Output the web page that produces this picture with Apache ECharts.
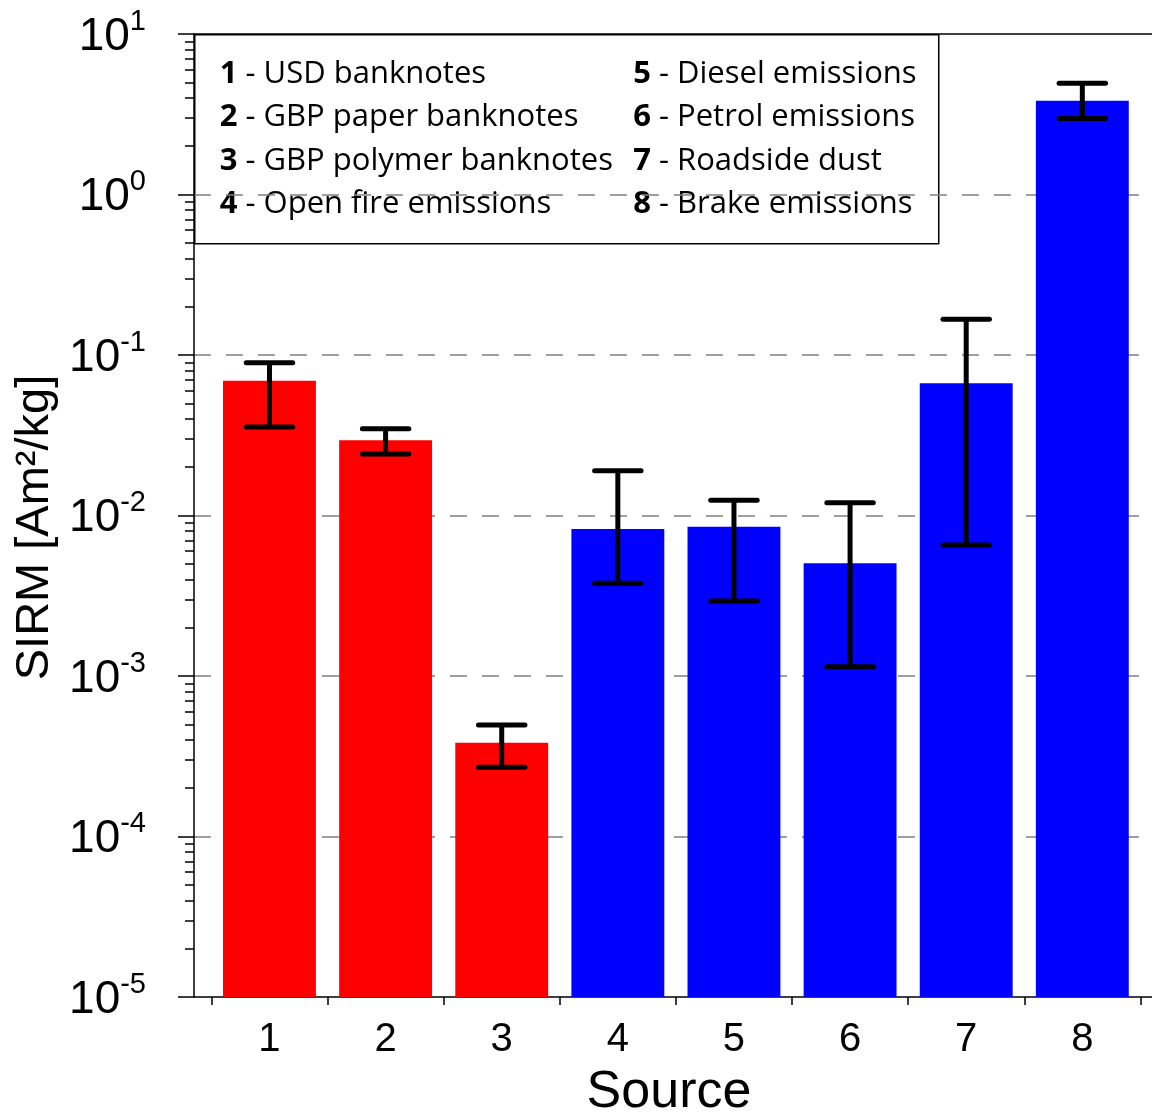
<!DOCTYPE html>
<html><head><meta charset="utf-8">
<script src="https://cdn.jsdelivr.net/npm/echarts@6/dist/echarts.min.js"></script>
<style>html,body{margin:0;padding:0;background:#fff}#c{width:1152px;height:1117px}</style>
</head><body><div id="c"></div>
<script>
// ---- data ----
const categories = [1, 2, 3, 4, 5, 6, 7, 8];
const sourceNames = ['USD banknotes', 'GBP paper banknotes', 'GBP polymer banknotes', 'Open fire emissions',
  'Diesel emissions', 'Petrol emissions', 'Roadside dust', 'Brake emissions'];
const sourceGroup = ['banknote', 'banknote', 'banknote', 'emission', 'emission', 'emission', 'emission', 'emission'];
const sirmMean  = [0.0692, 0.0294, 3.84e-4, 8.24e-3, 8.52e-3, 5.04e-3, 0.0666, 3.84];
const sirmUpper = [0.0895, 0.0347, 4.95e-4, 0.0190, 0.01243, 0.01202, 0.1669, 4.93];
const sirmLower = [0.0356, 0.0242, 2.70e-4, 3.78e-3, 2.93e-3, 1.143e-3, 6.55e-3, 2.98];
const yTickValues = [1e-5, 1e-4, 1e-3, 1e-2, 1e-1, 1, 10];
const yTickLabels = ['-5', '-4', '-3', '-2', '-1', '0', '1'];
const xTickBoundaries = [0.5, 1.5, 2.5, 3.5, 4.5, 5.5, 6.5, 7.5, 8.5];
const xLabel = 'Source';
const yLabel = 'SIRM [Am\u00B2/kg]';

// ---- styling / layout ----
const groupColor = { banknote: '#ff0000', emission: '#0000ff' };
const Y_MIN = 1e-5, Y_MAX = 10;
const AX = 'Liberation Sans, Arial, sans-serif';
const LEG = 'Open Sans, sans-serif';

// minor (2..9 x 10^n) tick positions of the log axis
const yMinorValues = [];
for (let e = -5; e < 1; e++) for (let m = 2; m <= 9; m++) yMinorValues.push(+(m * Math.pow(10, e)).toPrecision(3));

const chart = echarts.init(document.getElementById('c'), null, { renderer: 'canvas' });

const legendChildren = [{
  type: 'rect', shape: { x: 0, y: 0, width: 744, height: 209 },
  style: { fill: '#fff', stroke: '#000', lineWidth: 1.5 }
}];
sourceNames.forEach((name, i) => {
  const col = Math.floor(i / 4), row = i % 4;
  legendChildren.push({
    type: 'text', x: 25 + col * 413.5, y: 39.5 + row * 43.4,
    style: {
      text: '{b|' + categories[i] + '} - ' + name,
      font: '31px ' + LEG, fill: '#000', verticalAlign: 'middle', align: 'left',
      rich: { b: { fontWeight: 'bold', fontSize: 31, fontFamily: LEG } }
    }
  });
});

const option = {
  backgroundColor: '#fff',
  animation: false,
  grid: { left: 194, right: 0, top: 34, bottom: 120, containLabel: false, outerBoundsMode: 'none' },
  xAxis: [{
    type: 'value', min: 0.35, max: 8.6, position: 'bottom',
    axisLine: { show: true, lineStyle: { color: '#000', width: 1.5 } },
    axisTick: { show: true, customValues: xTickBoundaries, length: 8, lineStyle: { color: '#000', width: 1.5 } },
    axisLabel: { customValues: categories, color: '#000', fontFamily: AX, fontSize: 40, margin: 23 },
    splitLine: { show: false },
    name: xLabel, nameLocation: 'middle', nameGap: 70,
    nameTextStyle: { color: '#000', fontFamily: AX, fontSize: 52, padding: [0, 8, 0, 0] }
  }, {
    type: 'value', min: 0.35, max: 8.6, position: 'top',
    axisLine: { show: true, lineStyle: { color: '#000', width: 1.5 } },
    axisTick: { show: false }, axisLabel: { show: false }, splitLine: { show: false }
  }],
  yAxis: [{
    type: 'log', logBase: 10, min: Y_MIN, max: Y_MAX, position: 'left',
    axisLine: { show: true, lineStyle: { color: '#000', width: 1.5 } },
    axisTick: { show: true, customValues: yTickValues, length: 16, lineStyle: { color: '#000', width: 1.5 } },
    axisLabel: {
      customValues: yTickValues, margin: 48, color: '#000',
      formatter: (v) => '{b|10}{s|' + yTickLabels[yTickValues.findIndex(t => Math.abs(Math.log10(t) - Math.log10(v)) < 1e-6)] + '}',
      rich: {
        b: { fontFamily: AX, fontSize: 46, lineHeight: 60, color: '#000' },
        s: { fontFamily: AX, fontSize: 29, lineHeight: 24, verticalAlign: 'top', color: '#000' }
      },
      padding: [6, 0, 0, 0]
    },
    splitLine: { show: true, showMinLine: false, showMaxLine: false, lineStyle: { color: '#808080', width: 1.5, type: [17, 15] } },
    name: yLabel, nameLocation: 'middle', nameGap: 134, nameRotate: 90,
    nameTextStyle: { color: '#000', fontFamily: AX, fontSize: 47, padding: [0, 24, 0, 0] }
  }, {
    type: 'log', logBase: 10, min: Y_MIN, max: Y_MAX, position: 'left',
    axisLine: { show: false },
    axisTick: { show: true, customValues: yMinorValues, length: 9, lineStyle: { color: '#000', width: 1.5 } },
    axisLabel: { show: false }, splitLine: { show: false }
  }],
  graphic: [{ type: 'group', left: 194, top: 34, z: 100, children: legendChildren }],
  series: [{
    type: 'custom', name: 'SIRM', xAxisIndex: 0, yAxisIndex: 0,
    encode: { x: 0, y: 1 },
    data: categories.map((c, i) => [c, sirmMean[i], i]),
    renderItem: (params, api) => {
      const x = api.value(0), v = api.value(1), i = api.value(2);
      const tl = api.coord([x - 0.4, v]);
      const br = api.coord([x + 0.4, Y_MIN]);
      return { type: 'rect', shape: { x: tl[0], y: tl[1], width: br[0] - tl[0], height: br[1] - tl[1] },
        style: { fill: groupColor[sourceGroup[i]] } };
    }
  }, {
    type: 'custom', name: 'error', xAxisIndex: 0, yAxisIndex: 0, z: 5,
    encode: { x: 0, y: [1, 2] },
    data: categories.map((c, i) => [c, sirmLower[i], sirmUpper[i]]),
    renderItem: (params, api) => {
      const x = api.value(0), lo = api.value(1), hi = api.value(2);
      const t = api.coord([x, hi]), b = api.coord([x, lo]);
      const l = api.coord([x - 0.2, hi])[0], r = api.coord([x + 0.2, hi])[0];
      const st = { stroke: '#000', lineWidth: 5, lineCap: 'round' };
      return { type: 'group', children: [
        { type: 'line', shape: { x1: t[0], y1: t[1], x2: b[0], y2: b[1] }, style: { stroke: '#000', lineWidth: 5 } },
        { type: 'line', shape: { x1: l, y1: t[1], x2: r, y2: t[1] }, style: st },
        { type: 'line', shape: { x1: l, y1: b[1], x2: r, y2: b[1] }, style: st }
      ] };
    }
  }]
};
chart.setOption(option);
</script></body></html>
